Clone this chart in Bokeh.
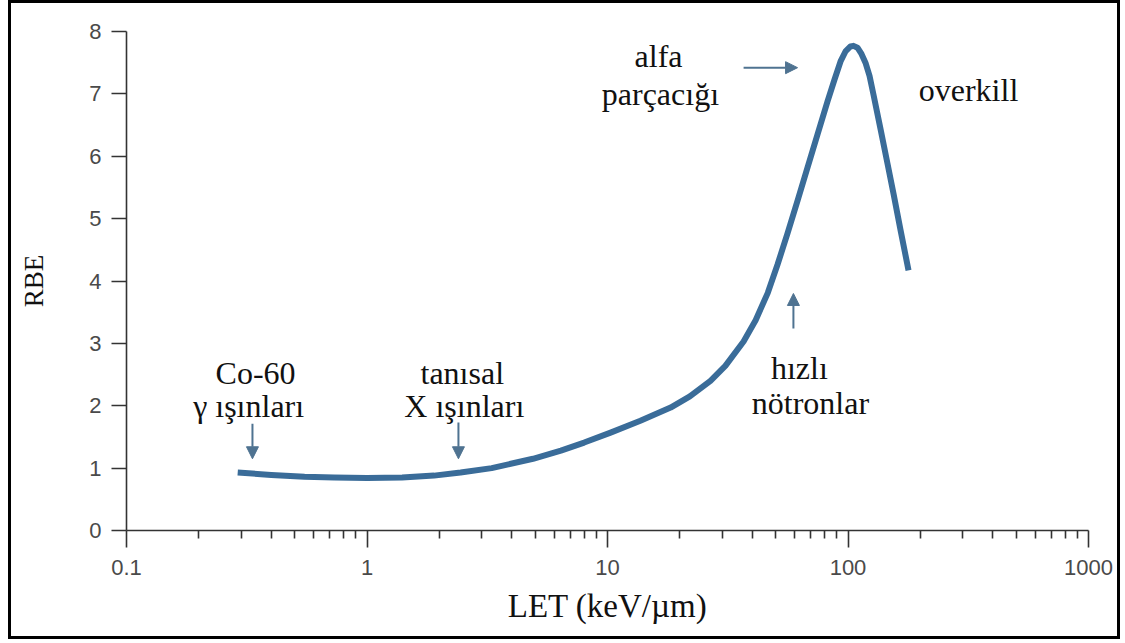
from bokeh.plotting import figure
from bokeh.layouts import column
from bokeh.models import (Label, Arrow, NormalHead, FixedTicker,
                          CustomJSTickFormatter, ColumnDataSource)
from bokeh.embed import file_html
from bokeh.resources import INLINE

# ---- data ----
let_vals = [0.29, 0.4, 0.55, 0.73, 1.0, 1.4, 1.9, 2.45, 3.3, 4.9, 6.4, 8.0,
            10.3, 13.7, 18.3, 22, 26.8, 30.9, 36.8, 41.3, 46.4, 50.9, 56.0,
            61.7, 67.9, 74.7, 82.2, 87.9, 93.1, 97.6, 102.4, 105.4, 109.5,
            113.8, 118.2, 122.9, 127.6, 136.5, 146.0, 154.6, 165.3, 178.5]
rbe_vals = [0.93, 0.89, 0.86, 0.85, 0.84, 0.85, 0.88, 0.93, 1.0, 1.15, 1.28,
            1.41, 1.57, 1.76, 1.97, 2.15, 2.40, 2.64, 3.03, 3.37, 3.81, 4.26,
            4.76, 5.29, 5.82, 6.35, 6.88, 7.23, 7.52, 7.68, 7.76, 7.77, 7.74,
            7.64, 7.50, 7.29, 6.99, 6.44, 5.88, 5.40, 4.82, 4.17]

x_major = [0.1, 1, 10, 100, 1000]
y_major = [0, 1, 2, 3, 4, 5, 6, 7, 8]

# annotation texts: (text, LET, RBE baseline)
labels = [
    ("Co-60", 0.344, 2.53),
    ("γ ışınları", 0.322, 2.00),
    ("tanısal", 2.49, 2.53),
    ("X ışınları", 2.54, 2.00),
    ("hızlı", 62.8, 2.61),
    ("nötronlar", 69.8, 2.05),
    ("alfa", 16.3, 7.60),
    ("parçacığı", 16.6, 7.00),
    ("overkill", 317, 7.07),
]
# arrows: (x_start, y_start, x_end, y_end)
arrows = [
    (0.334, 1.71, 0.334, 1.15),
    (2.40, 1.73, 2.40, 1.15),
    (59.3, 3.24, 59.3, 3.80),
    (36.8, 7.42, 61.7, 7.42),
]

CURVE = "#3a6c99"
ARROW = "#4f7391"
SERIF = "Liberation Serif"
SANS = "Liberation Sans"
W, H = 1106, 633

p = figure(width=W, height=H, x_axis_type="log",
           x_range=(0.1, 1000), y_range=(0, 8),
           output_backend="svg", toolbar_location=None,
           min_border_left=115, min_border_right=29,
           min_border_top=28, min_border_bottom=106)
p.outline_line_color = None
p.xgrid.visible = False
p.ygrid.visible = False
p.background_fill_color = "white"
p.border_fill_color = "white"

src = ColumnDataSource(dict(x=let_vals, y=rbe_vals))
p.line("x", "y", source=src, line_width=6, line_color=CURVE,
       line_join="round", line_cap="butt")

# axes
minor = [m * d for d in [0.1, 1, 10, 100] for m in range(2, 10)]
p.xaxis.ticker = FixedTicker(ticks=x_major, minor_ticks=minor)
p.xaxis.formatter = CustomJSTickFormatter(code="return tick.toString();")
p.yaxis.ticker = FixedTicker(ticks=y_major)

for ax in (p.xaxis[0], p.yaxis[0]):
    ax.axis_line_color = "#333333"
    ax.axis_line_width = 1.6
    ax.major_tick_line_color = "#333333"
    ax.major_tick_line_width = 1.6
    ax.minor_tick_line_color = "#333333"
    ax.minor_tick_line_width = 1.6
    ax.major_tick_in = 0
    ax.minor_tick_in = 0
    ax.major_label_text_font = SANS
    ax.major_label_text_font_size = "22px"
    ax.major_label_text_color = "#4a4a4a"
    ax.axis_label_text_font = SERIF
    ax.axis_label_text_font_style = "normal"
    ax.axis_label_text_color = "#111111"

p.xaxis.major_tick_out = 17
p.xaxis.minor_tick_out = 8
p.xaxis.major_label_standoff = 12
p.xaxis.axis_label = "LET (keV/µm)"
p.xaxis.axis_label_text_font_size = "33px"
p.xaxis.axis_label_standoff = 10

p.yaxis.major_tick_out = 15
p.yaxis.minor_tick_out = 0
p.yaxis.major_label_standoff = 10
p.yaxis.axis_label = "RBE"
p.yaxis.axis_label_text_font_size = "27px"
p.yaxis.axis_label_standoff = 37

for txt, xv, yv in labels:
    p.add_layout(Label(x=xv, y=yv, text=txt, text_font=SERIF,
                       text_font_size="32px", text_color="#111111",
                       text_align="center", text_baseline="alphabetic"))

for xs, ys, xe, ye in arrows:
    p.add_layout(Arrow(end=NormalHead(size=12, fill_color=ARROW,
                                      line_color=ARROW, line_width=1),
                       x_start=xs, y_start=ys, x_end=xe, y_end=ye,
                       line_color=ARROW, line_width=2))

page = column(p, styles={"border": "3px solid black", "margin-left": "8px",
                         "width": "fit-content"})

open("out.html", "w").write(file_html(page, INLINE))
